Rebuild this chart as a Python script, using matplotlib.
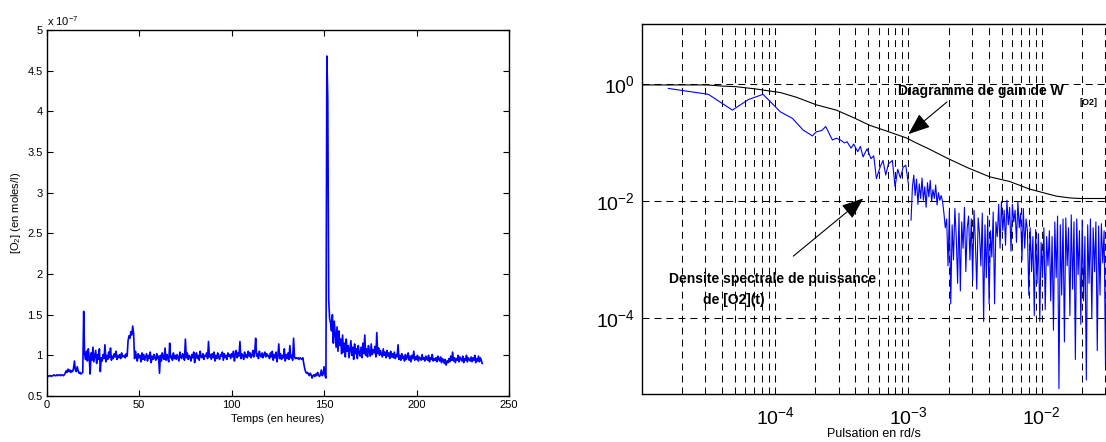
import numpy as np
import matplotlib
matplotlib.use("Agg")
import matplotlib.pyplot as plt
from matplotlib.ticker import FormatStrFormatter, NullLocator

plt.rcParams['font.family'] = ['Liberation Sans', 'DejaVu Sans']
plt.rcParams['mathtext.fontset'] = 'custom'
plt.rcParams['mathtext.rm'] = 'Liberation Sans'
plt.rcParams['mathtext.it'] = 'Liberation Sans:italic'
plt.rcParams['mathtext.bf'] = 'Liberation Sans:bold'

# [O2] mesuree toutes les 0.5 h (en 1e-7 moles/l)
o2 = [
    0.74, 0.75, 0.74, 0.75, 0.75, 0.74, 0.75, 0.75, 0.76, 0.75, 0.75, 0.76, 0.75, 0.76, 0.76, 0.75, 0.76, 0.76, 0.75, 0.76,
    0.78, 0.81, 0.79, 0.83, 0.80, 0.82, 0.79, 0.81, 0.80, 0.84, 0.93, 0.82, 0.80, 0.86, 0.81, 0.78, 0.79, 0.77, 0.78, 0.79,
    1.54, 1.02, 0.95, 1.05, 0.93, 1.08, 0.97, 0.77, 1.03, 0.94, 1.10, 0.92, 0.99, 1.06, 0.90, 1.01, 0.95, 1.08, 0.80, 0.97,
    0.93, 1.01, 0.96, 1.13, 0.92, 1.00, 0.95, 1.04, 0.97, 1.09, 0.94, 0.99, 0.96, 1.02, 0.98, 1.05, 0.95, 1.00, 0.97, 1.01,
    0.96, 1.03, 0.98, 0.99, 1.00, 0.97, 1.02, 0.99, 1.18, 1.24, 1.21, 1.29, 1.25, 1.36, 1.27, 0.96, 1.05, 0.98, 0.93, 1.02,
    0.97, 1.00, 0.92, 1.03, 0.95, 1.01, 0.94, 0.98, 1.02, 0.93, 1.00, 0.96, 1.04, 0.91, 0.99, 0.95, 1.01, 0.97, 0.94, 1.02,
    0.96, 0.99, 0.78, 1.00, 0.93, 1.03, 0.97, 0.95, 1.09, 0.94, 1.01, 0.96, 0.92, 1.15, 0.97, 0.99, 0.94, 1.03, 0.96, 1.00,
    0.95, 1.01, 0.97, 0.93, 1.04, 0.98, 0.96, 1.02, 0.99, 0.94, 1.20, 0.97, 1.03, 0.95, 1.00, 0.98, 0.93, 1.01, 0.97, 1.04,
    0.91, 0.99, 1.03, 0.96, 1.00, 0.94, 1.05, 0.98, 0.97, 1.02, 0.95, 1.00, 0.99, 1.03, 0.96, 1.17, 0.98, 1.01, 0.95, 1.02,
    0.97, 1.04, 0.93, 1.00, 0.96, 1.03, 0.98, 0.95, 1.01, 0.99, 1.04, 0.94, 1.02, 0.97, 1.00, 0.95, 1.03, 0.99, 1.01, 0.96,
    1.02, 0.98, 1.05, 0.93, 1.01, 1.06, 0.97, 1.03, 0.99, 1.17, 0.96, 1.02, 1.00, 0.95, 1.04, 0.98, 1.01, 0.97, 1.05, 0.99,
    1.03, 0.97, 1.00, 1.06, 0.98, 1.04, 1.21, 0.99, 1.02, 0.96, 1.05, 1.00, 0.98, 1.03, 0.97, 1.01, 1.04, 0.98, 1.02, 0.99,
    1.00, 0.96, 1.03, 0.98, 1.05, 0.94, 1.01, 0.97, 1.04, 0.92, 0.99, 1.14, 0.96, 1.02, 0.95, 1.00, 0.97, 1.08, 0.93, 1.01,
    0.96, 1.03, 0.95, 1.12, 0.97, 1.00, 0.94, 1.21, 0.98, 0.96, 0.97, 0.96, 0.97, 0.95, 0.97, 0.96, 0.95, 0.97, 0.90, 0.84,
    0.80, 0.78, 0.79, 0.77, 0.75, 0.78, 0.76, 0.72, 0.75, 0.76, 0.74, 0.77, 0.75, 0.79, 0.76, 0.74, 0.76, 0.82, 0.75, 0.77,
    0.86, 0.75, 0.72, 4.68, 4.15, 1.68, 1.45, 1.40, 1.30, 1.50, 1.15, 1.42, 1.25, 1.10, 1.35, 1.05, 1.30, 1.12, 1.20, 1.02,
    1.25, 1.04, 1.15, 0.98, 1.20, 1.05, 1.12, 0.97, 1.08, 1.18, 1.00, 1.10, 0.95, 1.14, 1.02, 1.08, 0.96, 1.12, 1.03, 0.99,
    1.10, 0.97, 1.15, 1.02, 1.25, 1.00, 1.08, 0.98, 1.12, 1.04, 0.99, 1.14, 1.01, 1.07, 1.03, 1.11, 0.98, 1.28, 1.02, 1.09,
    1.00, 1.06, 1.02, 0.98, 1.08, 1.00, 1.04, 0.97, 1.06, 0.99, 1.03, 0.96, 1.05, 0.98, 1.02, 0.97, 1.04, 0.96, 1.01, 0.98,
    1.13, 0.95, 1.00, 0.94, 1.02, 0.96, 0.99, 0.93, 1.01, 0.95, 0.98, 1.03, 0.94, 0.99, 0.92, 1.00, 0.96, 1.05, 0.94, 0.98,
    0.95, 1.00, 0.93, 0.98, 0.96, 0.94, 1.01, 0.95, 0.97, 0.93, 0.99, 0.96, 0.94, 1.00, 0.92, 0.97, 0.95, 1.01, 0.93, 0.96,
    0.94, 0.97, 0.92, 0.99, 0.95, 0.93, 0.98, 0.91, 0.96, 0.94, 0.90, 0.95, 0.88, 0.93, 0.91, 0.96, 0.92, 0.99, 0.94, 1.04,
    0.93, 0.97, 0.91, 0.96, 0.94, 1.00, 0.92, 0.98, 0.95, 0.93, 0.99, 0.91, 0.96, 0.94, 1.00, 0.92, 0.97, 0.95, 0.93, 0.98,
    0.92, 0.97, 0.94, 1.00, 0.91, 0.96, 0.93, 0.99, 0.92, 0.97, 0.94, 0.90,
]
temps = np.arange(len(o2)) * 0.5

# diagramme de gain de W[O2] (log10 pulsation, log10 gain)
gain_w_log = [-5.0, -4.71, -4.51, -4.39, -4.29, -4.14, -3.96, -3.84, -3.69, -3.54, -3.41, -3.29, -3.16,
              -3.01, -2.96, -2.84, -2.71, -2.56, -2.39, -2.24, -2.09, -1.99, -1.89, -1.79, -1.71, -1.40]
gain_log = [-0.01, -0.01, -0.01, -0.03, -0.04, -0.08, -0.14, -0.22, -0.35, -0.44, -0.57, -0.70, -0.80,
            -0.92, -0.98, -1.11, -1.26, -1.42, -1.58, -1.66, -1.79, -1.85, -1.91, -1.94, -1.95, -1.95]

# densite spectrale de puissance, basses frequences (log10)
dsp_w_log = [-4.80, -4.50, -4.32, -4.20, -4.09, -3.96, -3.87, -3.79, -3.72, -3.69, -3.65, -3.62, -3.57,
             -3.54, -3.51, -3.48, -3.46, -3.43, -3.41, -3.38, -3.36, -3.34, -3.31, -3.28, -3.26, -3.24,
             -3.21, -3.19, -3.17, -3.15, -3.12, -3.10, -3.08, -3.06, -3.04, -3.02, -3.00]
dsp_log = [-0.07, -0.17, -0.44, -0.26, -0.17, -0.47, -0.58, -0.78, -0.88, -0.81, -0.79, -0.72, -0.95,
           -0.92, -0.95, -1.00, -0.98, -1.09, -1.02, -1.15, -1.06, -1.24, -1.10, -1.27, -1.22, -1.61,
           -1.40, -1.30, -1.55, -1.36, -1.30, -1.75, -1.45, -1.60, -1.42, -1.38, -1.70]

# densite spectrale, hautes frequences (log10), de 10^-2.98 a 10^-1.45
dsp_hf_log = [
    -2.32, -1.75, -1.55, -1.90, -1.62, -2.05, -1.70, -1.95, -1.60, -1.98, -1.75, -2.10, -1.68,
    -1.92, -1.64, -2.00, -1.80, -1.95, -1.72, -2.06, -1.85, -1.98, -1.90, -2.00, -2.20, -2.45,
    -2.30, -3.10, -2.15, -3.75, -2.40, -3.00, -2.12, -2.60, -3.40, -2.20, -3.53, -2.35, -2.80,
    -2.10, -3.20, -2.45, -2.25, -3.00, -2.30, -3.35, -2.15, -2.70, -3.50, -2.28, -2.55, -3.10,
    -2.20, -4.05, -2.40, -3.30, -2.25, -3.75, -2.50, -2.95, -2.18, -3.75, -2.35, -2.60, -2.05,
    -2.80, -2.00, -2.50, -2.15, -2.75, -1.98, -2.40, -2.10, -2.85, -2.05, -2.35, -2.15, -2.70,
    -2.00, -2.45, -2.20, -3.00, -2.12, -2.80, -2.30,
    -2.50, -3.60, -2.45, -3.20, -2.60, -3.95, -2.48, -3.40, -2.55, -4.05, -2.70, -3.30, -2.45,
    -3.85, -2.60, -3.10, -2.50, -3.70,
    -2.60, -4.20, -2.35, -3.30, -2.25, -5.20, -2.40, -3.60, -2.30, -4.40, -2.28, -3.10, -2.45,
    -3.95, -2.23, -3.50, -2.35, -4.70, -2.30, -3.25, -2.50, -4.10, -2.32, -3.70, -2.60, -5.05,
    -2.40, -3.40, -2.30, -4.00, -2.45, -3.20, -2.35, -4.55, -2.42, -3.60, -2.38, -3.05, -2.50,
    -4.80, -2.36, -3.40, -2.45, -3.90, -2.33, -3.15, -2.48,
]
dsp_hf_w_log = np.linspace(-2.98, -1.45, len(dsp_hf_log))

W, H = 1106, 442
fig = plt.figure(figsize=(W / 100, H / 100), dpi=100)

# ---- gauche : [O2](t)
ax1 = fig.add_axes([46.7 / W, 46 / H, 462.3 / W, 366 / H])
ax1.plot(temps, o2, color='#0000ff', lw=1.2)
ax1.set_xticks(range(0, 251, 50))
ax1.set_yticks(np.arange(0.5, 5.01, 0.5))
ax1.set_xlim(0, 250)
ax1.set_ylim(0.5, 5)
ax1.yaxis.set_major_formatter(FormatStrFormatter('%g'))
ax1.tick_params(direction='in', top=True, right=True, labelsize=8, length=4, width=0.8, pad=3)
for s in ax1.spines.values():
    s.set_linewidth(1.0)
ax1.set_xlabel('Temps (en heures)', fontsize=8, labelpad=3)
ax1.set_ylabel('[O$_2$] (en moles/l)', fontsize=8, labelpad=3)
ax1.text(0, 1.005, 'x 10$^{-7}$', transform=ax1.transAxes, fontsize=8, va='bottom')

# ---- droite : diagramme de Bode / DSP
ax2 = fig.add_axes([641.7 / W, 48 / H, (1120 - 641.7) / W, 369.7 / H])
ax2.set_xscale('log')
ax2.set_yscale('log')
ax2.plot(10 ** np.array(gain_w_log), 10 ** np.array(gain_log), color='k', lw=0.8)
ax2.plot(10 ** np.array(dsp_w_log), 10 ** np.array(dsp_log), color='#0000ff', lw=0.8)
ax2.plot(10 ** dsp_hf_w_log, 10 ** np.array(dsp_hf_log), color='#0000ff', lw=0.8)
ax2.spines['right'].set_visible(False)
for s in ['left', 'top', 'bottom']:
    ax2.spines[s].set_linewidth(1.0)

ax2.set_xticks([1e-4, 1e-3, 1e-2])
ax2.set_xticklabels(['10$^{-4}$', '10$^{-3}$', '10$^{-2}$'])
ax2.set_xticks([m * 10.0 ** e for e in (-5, -4, -3, -2) for m in range(2, 10)], minor=True)
ax2.set_yticks([1e-4, 1e-2, 1e0])
ax2.set_yticklabels(['10$^{-4}$', '10$^{-2}$', '10$^{0}$'])
ax2.yaxis.set_minor_locator(NullLocator())
# limites apres les ticks (set_xticks elargit la vue sinon)
ax2.set_xlim(1e-5, 10 ** -1.413)
ax2.set_ylim(10 ** -5.29, 10 ** 1.026)
ax2.tick_params(which='both', direction='in', length=0, labelsize=14)
ax2.tick_params(axis='x', pad=9)
ax2.tick_params(axis='y', pad=5)
ax2.xaxis.set_tick_params(which='minor', labelbottom=False)

grid_style = dict(color='k', linestyle=(0, (6.7, 4.8)), linewidth=0.75)
ax2.grid(True, which='both', axis='x', **grid_style)
ax2.grid(True, which='major', axis='y', **grid_style)

arrow = dict(arrowstyle='-|>,head_length=0.9,head_width=0.35', mutation_scale=15,
             color='k', lw=0.8, shrinkA=0, shrinkB=0)
ax2.annotate('', xy=(10 ** -3.0, 10 ** -0.85), xytext=(10 ** -2.71, 10 ** -0.30), arrowprops=arrow)
ax2.annotate('', xy=(10 ** -3.338, 10 ** -1.949), xytext=(10 ** -3.863, 10 ** -2.935), arrowprops=arrow)

fig.text(898 / W, 1 - 95 / H, 'Diagramme de gain de W', fontsize=10, fontweight='bold', va='baseline')
fig.text(1080 / W, 1 - 105 / H, '[O2]', fontsize=6.5, fontweight='bold', va='baseline')
fig.text(773 / W, 1 - 279.3 / H, 'Densite spectrale de puissance', fontsize=10, fontweight='bold',
         ha='center', va='center')
fig.text(734 / W, 1 - 300 / H, 'de [O2](t)', fontsize=10, fontweight='bold', ha='center', va='center')
fig.text(874 / W, 1 - 434 / H, 'Pulsation en rd/s', fontsize=9, ha='center', va='center')

fig.savefig('out.png', dpi=100)
